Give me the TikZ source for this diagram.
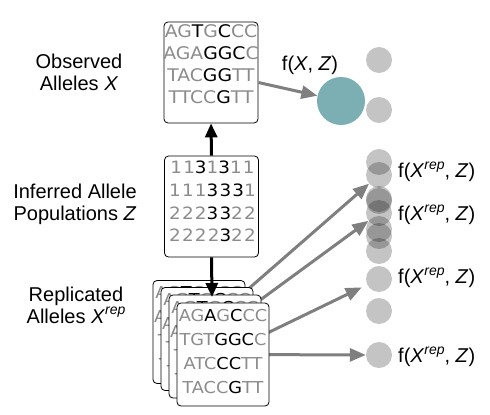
\documentclass[tikz,border=0pt]{standalone}
\usepackage{fontspec}
\setmainfont{Liberation Sans}
\newfontfamily\seqfont[FakeStretch=1.08]{DejaVu Sans}
\newfontfamily\numfont[FakeStretch=1.08,LetterSpace=7]{DejaVu Sans}
\usetikzlibrary{arrows.meta}
\definecolor{seqgray}{HTML}{8C8C8C}
\definecolor{arrgray}{HTML}{7F7F7F}
\definecolor{tealc}{HTML}{7BAFB3}
\newcommand\sg[1]{\textcolor{seqgray}{#1}}
\newcommand\repsup{\raisebox{0.42em}{\fontsize{14}{14}\selectfont\textit{rep}}}
\tikzset{
  seqbox/.style={draw=black, line width=0.8pt, rounded corners=4pt, fill=white,
    minimum width=94pt, minimum height=101pt, inner sep=0pt},
  stackbox/.style={seqbox, minimum width=92pt, minimum height=103pt},
  seqtxt/.style={font=\fontsize{17.4}{22}\selectfont\seqfont, align=center, inner sep=0pt, anchor=north},
  numtxt/.style={font=\fontsize{17}{22.6}\selectfont\numfont, align=center, inner sep=0pt, anchor=north},
  stacktxt/.style={font=\fontsize{16.4}{24}\selectfont\seqfont, align=center, inner sep=0pt, anchor=north},
  lbl/.style={font=\fontsize{20}{22}\selectfont, align=center, inner sep=0pt},
  flbl/.style={font=\fontsize{20}{22}\selectfont, inner sep=0pt, anchor=west},
  dot/.style={circle, minimum size=26pt, inner sep=0pt, fill=black, fill opacity=0.23},
  garrow/.style={draw=arrgray, line width=3pt, -{Triangle[length=16pt,width=13pt]}},
  barrow/.style={draw=black, line width=3pt, -{Triangle[length=14pt,width=12pt]}}
}
\begin{document}
\begin{tikzpicture}[x=1pt,y=-1pt]
\useasboundingbox (0,0) rectangle (490,415);

% left labels
\node[lbl] (l1) at (79,72.5) {Observed\\Alleles \textit{X}};
\node[lbl] (l2) at (75,204) {Inferred Allele\\Populations \textit{Z}};
\node[lbl] (l3) at (76,305) {Replicated\\Alleles \textit{X}\repsup};

% observed
\node[seqbox] (obs) at (211,72.5) {};
\node[seqtxt] (obst) at ([yshift=-3pt]obs.north) {\sg{AG}T\sg{G}C\sg{CC}\\\sg{AGA}GGC\sg{C}\\\sg{TAC}GG\sg{TT}\\\sg{TTCC}G\sg{TT}};

% inferred
\node[seqbox] (inf) at (211.5,206.5) {};
\node[numtxt] (inft) at ([yshift=-5.5pt,xshift=1pt]inf.north) {\sg{11}3\sg{1}3\sg{11}\\\sg{111}333\sg{1}\\\sg{222}33\sg{22}\\\sg{2222}3\sg{22}};

% dots
\node[fill=tealc, circle, minimum size=48pt, inner sep=0pt] (teal) at (341,101) {};
\node[dot] (o1) at (379,60) {};
\node[dot] (o2) at (379,110) {};
\node[dot] (d1) at (379,162) {};
\node[dot] (d2) at (379,175) {};
\node[dot] (d3) at (379,199) {};
\node[dot] (d4) at (379,201) {};
\node[dot] (d5) at (379,213) {};
\node[dot] (d6) at (379,229) {};
\node[dot] (d7) at (379,236) {};
\node[dot] (d8) at (379,251) {};
\node[dot] (d9) at (379,279) {};
\node[dot] (d10) at (379,311) {};
\node[dot] (d11) at (379,355) {};

% arrows from stack (drawn under boxes)
\coordinate (r1c) at (199,332);
\coordinate (r2c) at (207,339);
\coordinate (r4c) at (223,354.5);
\draw[garrow] (r1c) -- (d2);
\draw[garrow] (r2c) -- (d5);
\draw[garrow, shorten >=6pt] (r4c) -- (d9);
\draw[garrow] (r4c) -- (d11);

% stack
\node[stackbox] (r1) at (r1c) {};
\node[stacktxt] (r1t) at ([yshift=-6.5pt]r1.north) {\sg{AG}T\sg{G}C\sg{CC}\\\sg{AGA}GGC\sg{C}\\\sg{TAC}GG\sg{TT}\\\sg{TTCC}G\sg{TT}};
\node[stackbox] (r2) at (r2c) {};
\node[stacktxt] (r2t) at ([yshift=-6.5pt]r2.north) {\sg{AG}T\sg{G}C\sg{CC}\\\sg{AGA}GGC\sg{C}\\\sg{TAC}GG\sg{TT}\\\sg{TTCC}G\sg{TT}};
\node[stackbox] (r3) at (215,346.5) {};
\node[stacktxt] (r3t) at ([yshift=-6.5pt]r3.north) {\sg{AG}T\sg{G}C\sg{CC}\\\sg{AGA}GGC\sg{C}\\\sg{TAC}GG\sg{TT}\\\sg{TTCC}G\sg{TT}};
\node[stackbox] (r4) at (r4c) {};
\node[stacktxt] (r4t) at ([yshift=-6.5pt]r4.north) {\sg{AG}A\sg{G}C\sg{CC}\\\sg{TGT}GGC\sg{C}\\\sg{ATC}CC\sg{TT}\\\sg{TACC}G\sg{TT}};

% black arrows
\coordinate (downtip) at (212,297);
\draw[barrow] (inf.north) -- (obs.south);
\draw[barrow] (inf.south) -- (downtip);

% observed arrow
\draw[garrow] ([yshift=-10pt]obs.east) -- (teal);
\node[lbl] (fo) at (310,65) {f(\textit{X}, \textit{Z})};

% replicate labels
\node[flbl] (f1) at (398,172) {f(\textit{X}\repsup, \textit{Z})};
\node[flbl] (f2) at (398,215) {f(\textit{X}\repsup, \textit{Z})};
\node[flbl] (f3) at (398,278) {f(\textit{X}\repsup, \textit{Z})};
\node[flbl] (f4) at (398,357) {f(\textit{X}\repsup, \textit{Z})};
\end{tikzpicture}
\end{document}
